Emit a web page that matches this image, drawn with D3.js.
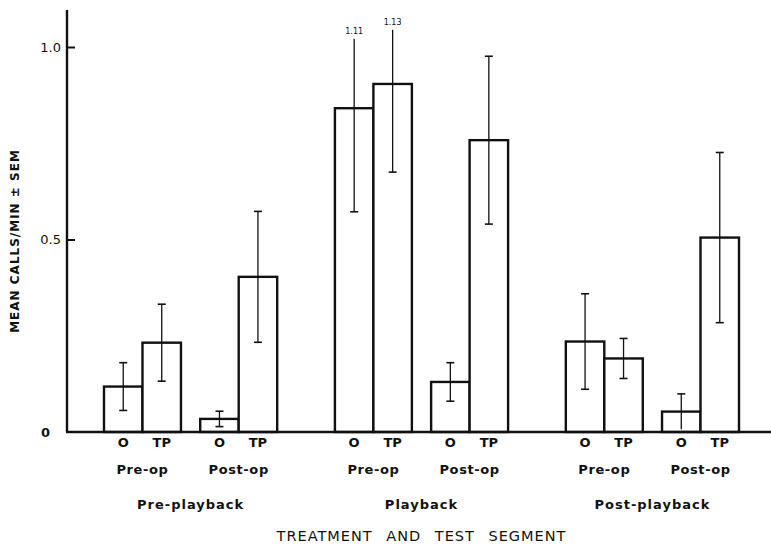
<!DOCTYPE html>
<html>
<head>
<meta charset="utf-8">
<title>Mean calls/min</title>
<style>
  body { margin: 0; background: #fff; }
  text { font-family: "DejaVu Sans", sans-serif; fill: #111; }
</style>
</head>
<body>
<script src="https://cdn.jsdelivr.net/npm/d3@7"></script>
<script>
// data
var groups = ["Pre-playback", "Playback", "Post-playback"];
var ops = ["Pre-op", "Post-op"];
var treatments = ["O", "TP"];
// order: group -> op -> treatment
var means = [0.118, 0.232, 0.034, 0.403,
             0.841, 0.904, 0.130, 0.758,
             0.235, 0.191, 0.053, 0.505];
var sems  = [0.062, 0.100, 0.020, 0.170,
             0.269, 0.229, 0.050, 0.218,
             0.124, 0.052, 0.046, 0.221];
var yTicks = [0, 0.5, 1.0];
var yLabel = "MEAN CALLS/MIN \u00b1 SEM";
var xTitle = "TREATMENT AND TEST SEGMENT";

var W = 771, H = 547;

// bar slots in units of one bar width
var x = d3.scaleLinear().domain([0, 16.5]).range([104, 739]);
var y = d3.scaleLinear().domain([0, 1]).range([432, 47]);
var yTop = y.invert(10);

var bars = [];
groups.forEach(function(g, gi) {
  ops.forEach(function(o, oi) {
    treatments.forEach(function(t, ti) {
      var i = gi * 4 + oi * 2 + ti;
      bars.push({group: gi, op: oi, t: t, u: gi * 6 + oi * 2.5 + ti,
                 mean: means[i], sem: sems[i]});
    });
  });
});

var svg = d3.select("body").append("svg")
    .attr("width", W)
    .attr("height", H);

// bars
svg.selectAll(".bar")
  .data(bars)
  .enter().append("rect")
    .attr("class", "bar")
    .attr("x", function(d) { return x(d.u); })
    .attr("width", x(1) - x(0))
    .attr("y", function(d) { return y(d.mean); })
    .attr("height", function(d) { return y(0) - y(d.mean); })
    .attr("fill", "#fff")
    .attr("stroke", "#111")
    .attr("stroke-width", 2.4);

// error bars; anything running off the top gets cut and labelled
var capW = 4;
var err = svg.selectAll(".err")
  .data(bars)
  .enter().append("g")
    .attr("class", "err")
    .attr("transform", function(d) { return "translate(" + x(d.u + 0.5) + ",0)"; });

err.each(function(d) {
  var g = d3.select(this);
  var hi = d.mean + d.sem, lo = Math.max(0, d.mean - d.sem);
  var cut = hi > yTop;
  var yHi = cut ? y(hi) + 34 : y(hi);
  g.append("line")
    .attr("y1", yHi).attr("y2", y(lo))
    .attr("stroke", "#111").attr("stroke-width", 1.3);
  if (!cut) {
    g.append("line")
      .attr("x1", -capW).attr("x2", capW)
      .attr("y1", yHi).attr("y2", yHi)
      .attr("stroke", "#111").attr("stroke-width", 1.6);
  } else {
    g.append("text")
      .attr("y", yHi - 5)
      .attr("text-anchor", "middle")
      .attr("font-size", 8)
      .text(hi.toFixed(2));
  }
  if (lo > 0.012) {
    g.append("line")
      .attr("x1", -capW).attr("x2", capW)
      .attr("y1", y(lo)).attr("y2", y(lo))
      .attr("stroke", "#111").attr("stroke-width", 1.6);
  }
});

// y axis with ticks pointing inward
var yAxis = svg.append("g")
    .attr("class", "yaxis")
    .attr("transform", "translate(67,0)")
    .call(d3.axisLeft(y)
      .tickValues(yTicks)
      .tickSizeInner(-8)
      .tickSizeOuter(0)
      .tickPadding(6)
      .tickFormat(function(d) { return d === 0 ? "0" : d3.format(".1f")(d); }));
yAxis.select(".domain").remove();
yAxis.selectAll(".tick line").attr("stroke", "#111").attr("stroke-width", 2);
yAxis.selectAll(".tick text")
    .attr("font-size", 13)
    .attr("font-family", "DejaVu Sans, sans-serif")
    .attr("fill", "#111");
yAxis.selectAll(".tick").filter(function(d) { return d === 0; })
    .select("text").attr("x", -17).attr("font-weight", "bold");
yAxis.selectAll(".tick").filter(function(d) { return d === 0; })
    .select("line").remove();

svg.append("line")
    .attr("x1", 67).attr("x2", 67)
    .attr("y1", 10).attr("y2", y(0))
    .attr("stroke", "#111").attr("stroke-width", 2.4);
svg.append("line")
    .attr("x1", 66).attr("x2", W)
    .attr("y1", y(0)).attr("y2", y(0))
    .attr("stroke", "#111").attr("stroke-width", 2.4);

// category labels
svg.selectAll(".tlab")
  .data(bars)
  .enter().append("text")
    .attr("x", function(d) { return x(d.u + 0.5); })
    .attr("y", 447)
    .attr("text-anchor", "middle")
    .attr("font-size", 13)
    .attr("font-weight", "bold")
    .text(function(d) { return d.t; });

var opLabels = [];
groups.forEach(function(g, gi) {
  ops.forEach(function(o, oi) {
    opLabels.push({name: o, u: gi * 6 + oi * 2.5 + 1});
  });
});
svg.selectAll(".oplab")
  .data(opLabels)
  .enter().append("text")
    .attr("x", function(d) { return x(d.u); })
    .attr("y", 474)
    .attr("text-anchor", "middle")
    .attr("font-size", 13)
    .attr("font-weight", "bold")
    .attr("letter-spacing", 0.6)
    .text(function(d) { return d.name; });

svg.selectAll(".glab")
  .data(groups)
  .enter().append("text")
    .attr("x", function(d, i) { return x(i * 6 + 2.25); })
    .attr("y", 509)
    .attr("text-anchor", "middle")
    .attr("font-size", 13)
    .attr("font-weight", "bold")
    .attr("letter-spacing", 1)
    .text(function(d) { return d; });

svg.append("text")
    .attr("x", x(8.25))
    .attr("y", 541)
    .attr("text-anchor", "middle")
    .attr("font-size", 14.5)
    .attr("letter-spacing", 1)
    .attr("word-spacing", 8)
    .text(xTitle);

svg.append("text")
    .attr("transform", "translate(19,241) rotate(-90)")
    .attr("text-anchor", "middle")
    .attr("font-size", 12)
    .attr("font-weight", "bold")
    .attr("letter-spacing", 1)
    .text(yLabel);
</script>
</body>
</html>
